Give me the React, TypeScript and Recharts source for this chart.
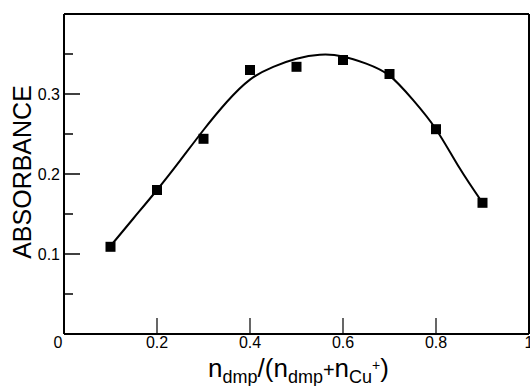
import React from 'react';
import { ComposedChart, Line, Scatter, XAxis, YAxis, ReferenceLine } from 'recharts';

const xValues = [0.1, 0.2, 0.3, 0.4, 0.5, 0.6, 0.7, 0.8, 0.9];
const absorbance = [0.109, 0.18, 0.244, 0.33, 0.334, 0.3425, 0.325, 0.256, 0.164];

const curveX = [0.1, 0.15, 0.2, 0.25, 0.3, 0.35, 0.4, 0.45, 0.5, 0.55, 0.6, 0.65, 0.7, 0.75, 0.8, 0.85, 0.9];
const curveY = [0.11, 0.145, 0.18, 0.217, 0.255, 0.29, 0.318, 0.334, 0.344, 0.349, 0.347, 0.338, 0.323, 0.293, 0.256, 0.208, 0.164];

const xTicks = [0.2, 0.4, 0.6, 0.8, 1];
const xTickLabels = ['0.2', '0.4', '0.6', '0.8', '1'];
const yTicks = [0, 0.05, 0.1, 0.15, 0.2, 0.25, 0.3, 0.35];
const yTickLabels: Record<string, string> = { '0': '0', '0.1': '0.1', '0.2': '0.2', '0.3': '0.3' };

const points = xValues.map((x, i) => ({ x, y: absorbance[i] }));
const curve = curveX.map((x, i) => ({ x, y: curveY[i] }));

const FONT = '"Liberation Sans", Arial, Helvetica, sans-serif';

const XTick = (props: any) => {
  const { x, y, payload } = props;
  const idx = xTicks.indexOf(payload.value);
  const label = idx >= 0 ? xTickLabels[idx] : String(payload.value);
  return (
    <g>
      {payload.value < 1 && <line x1={x} x2={x} y1={y} y2={y - 16} stroke="#000" strokeWidth={1.2} />}
      <text x={x} y={y + 14} textAnchor="middle" fontSize={16} fontFamily={FONT} fill="#000">
        {label}
      </text>
    </g>
  );
};

const YTick = (props: any) => {
  const { x, y, payload } = props;
  const v = Math.round(payload.value * 100) / 100;
  const key = String(v);
  const major = Math.round(v * 100) % 10 === 0;
  const label = yTickLabels[key];
  return (
    <g>
      {v > 0 && <line x1={x} x2={x + (major ? 16 : 9)} y1={y} y2={y} stroke="#000" strokeWidth={1.5} />}
      {label !== undefined && (
        v === 0 ? (
          <text x={x - 6} y={y + 14} textAnchor="middle" fontSize={16} fontFamily={FONT} fill="#000">{label}</text>
        ) : (
          <text x={x - 4} y={y + 6} textAnchor="end" fontSize={16} fontFamily={FONT} fill="#000">{label}</text>
        )
      )}
    </g>
  );
};

const Square = (props: any) => {
  const { cx, cy } = props;
  return <rect x={cx - 5} y={cy - 5} width={10} height={10} fill="#000" />;
};

const YLabel = (props: any) => {
  const vb = props.viewBox || { x: 0, y: 14, width: 64, height: 320 };
  const cx = vb.x + 22;
  const cy = vb.y + vb.height / 2 - 2;
  return (
    <text x={cx} y={cy} transform={`rotate(-90 ${cx} ${cy})`} textAnchor="middle" dominantBaseline="central" fontSize={25} fontFamily={FONT} fill="#000">
      ABSORBANCE
    </text>
  );
};

const XLabel = (props: any) => {
  const vb = props.viewBox || { x: 64, y: 334, width: 465, height: 52 };
  const cx = vb.x + vb.width / 2 + 2;
  const base = vb.y + 43;
  return (
    <text x={cx} y={base} textAnchor="middle" fontFamily={FONT} fill="#000" fontSize={26}>
      <tspan>n</tspan>
      <tspan fontSize={18} dy={6}>dmp</tspan>
      <tspan dy={-6}>/(n</tspan>
      <tspan fontSize={18} dy={6}>dmp</tspan>
      <tspan fontSize={20} dy={-6}>+</tspan>
      <tspan>n</tspan>
      <tspan fontSize={18} dy={6}>Cu</tspan>
      <tspan fontSize={14} dy={-13}>+</tspan>
      <tspan dy={7}>)</tspan>
    </text>
  );
};

export default function App() {
  return (
    <div style={{ position: 'absolute', left: 0, top: 0, background: '#fff' }}>
      <ComposedChart width={530} height={386} margin={{ top: 14, right: 1, bottom: 0, left: 0 }}>
        <XAxis
          type="number"
          dataKey="x"
          domain={[0, 1]}
          ticks={xTicks}
          tickSize={0}
          tickMargin={0}
          tickLine={false}
          tick={<XTick />}
          height={52}
          axisLine={{ stroke: '#000', strokeWidth: 2 }}
          interval={0}
          allowDataOverflow
          label={<XLabel />}
        />
        <YAxis
          type="number"
          dataKey="y"
          domain={[0, 0.4]}
          ticks={yTicks}
          tickSize={0}
          tickMargin={0}
          tickLine={false}
          tick={<YTick />}
          width={64}
          axisLine={{ stroke: '#000', strokeWidth: 2 }}
          interval={0}
          allowDataOverflow
          label={<YLabel />}
        />
        <ReferenceLine y={0.4} stroke="#000" strokeWidth={2} />
        <ReferenceLine x={1} stroke="#000" strokeWidth={2} />
        <Line data={curve} dataKey="y" type="natural" stroke="#000" strokeWidth={2} dot={false} isAnimationActive={false} />
        <Scatter data={points} dataKey="y" shape={<Square />} isAnimationActive={false} />
      </ComposedChart>
    </div>
  );
}
